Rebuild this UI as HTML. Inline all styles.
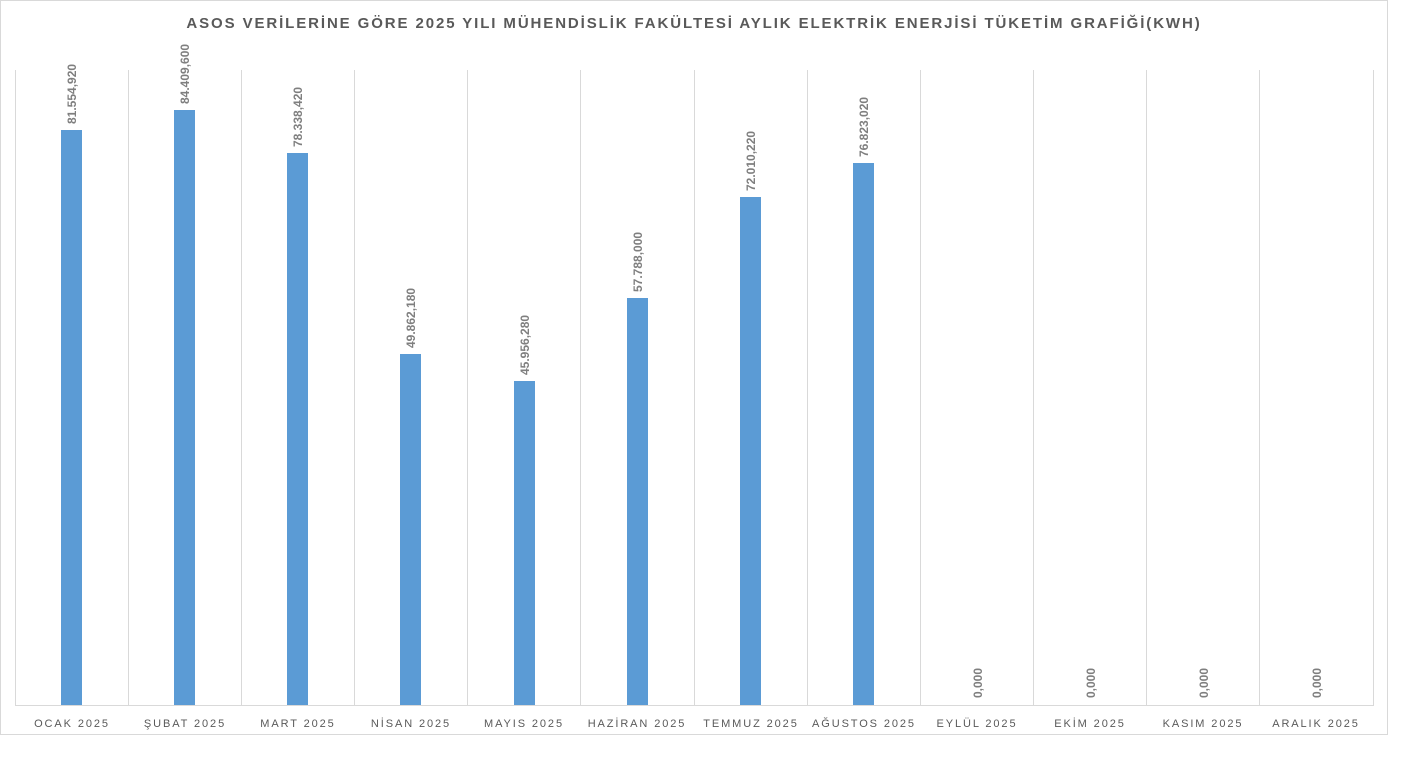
<!DOCTYPE html>
<html><head><meta charset="utf-8"><style>
body{margin:0;background:#fff;width:1417px;height:771px;overflow:hidden;font-family:"Liberation Sans",sans-serif}
</style></head><body>
<svg width="1417" height="771" xmlns="http://www.w3.org/2000/svg" font-family="Liberation Sans, sans-serif">
<rect x="0.5" y="0.5" width="1387" height="734" fill="#fff" stroke="#d9d9d9"/>
<text x="694" y="28" text-anchor="middle" font-size="15" font-weight="bold" fill="#595959" letter-spacing="1.9">ASOS VERİLERİNE GÖRE 2025 YILI MÜHENDİSLİK FAKÜLTESİ AYLIK ELEKTRİK ENERJİSİ TÜKETİM GRAFİĞİ(KWH)</text>
<g stroke="#d9d9d9" stroke-width="1">
<line x1="15.5" y1="70" x2="15.5" y2="705"/><line x1="128.5" y1="70" x2="128.5" y2="705"/><line x1="241.5" y1="70" x2="241.5" y2="705"/><line x1="354.5" y1="70" x2="354.5" y2="705"/><line x1="467.5" y1="70" x2="467.5" y2="705"/><line x1="580.5" y1="70" x2="580.5" y2="705"/><line x1="694.5" y1="70" x2="694.5" y2="705"/><line x1="807.5" y1="70" x2="807.5" y2="705"/><line x1="920.5" y1="70" x2="920.5" y2="705"/><line x1="1033.5" y1="70" x2="1033.5" y2="705"/><line x1="1146.5" y1="70" x2="1146.5" y2="705"/><line x1="1259.5" y1="70" x2="1259.5" y2="705"/><line x1="1373.5" y1="70" x2="1373.5" y2="705"/>
<line x1="15" y1="705.5" x2="1374" y2="705.5"/>
</g>
<g fill="#5b9bd5">
<rect x="61" y="130" width="21" height="575"/>
<rect x="174" y="110" width="21" height="595"/>
<rect x="287" y="153" width="21" height="552"/>
<rect x="400" y="354" width="21" height="351"/>
<rect x="514" y="381" width="21" height="324"/>
<rect x="627" y="298" width="21" height="407"/>
<rect x="740" y="197" width="21" height="508"/>
<rect x="853" y="163" width="21" height="542"/>
</g>
<g font-size="12" font-weight="bold" fill="#7f7f7f">
<text transform="translate(76,124) rotate(-90)">81.554,920</text>
<text transform="translate(189,104) rotate(-90)">84.409,600</text>
<text transform="translate(302,147) rotate(-90)">78.338,420</text>
<text transform="translate(415,348) rotate(-90)">49.862,180</text>
<text transform="translate(529,375) rotate(-90)">45.956,280</text>
<text transform="translate(642,292) rotate(-90)">57.788,000</text>
<text transform="translate(755,191) rotate(-90)">72.010,220</text>
<text transform="translate(868,157) rotate(-90)">76.823,020</text>
<text transform="translate(982,698) rotate(-90)">0,000</text>
<text transform="translate(1095,698) rotate(-90)">0,000</text>
<text transform="translate(1208,698) rotate(-90)">0,000</text>
<text transform="translate(1321,698) rotate(-90)">0,000</text>
</g>
<g font-size="11" fill="#595959" text-anchor="middle" letter-spacing="1.9">
<text x="72" y="727">OCAK 2025</text>
<text x="185" y="727">ŞUBAT 2025</text>
<text x="298" y="727">MART 2025</text>
<text x="411" y="727">NİSAN 2025</text>
<text x="524" y="727">MAYIS 2025</text>
<text x="637" y="727">HAZİRAN 2025</text>
<text x="751" y="727">TEMMUZ 2025</text>
<text x="864" y="727">AĞUSTOS 2025</text>
<text x="977" y="727">EYLÜL 2025</text>
<text x="1090" y="727">EKİM 2025</text>
<text x="1203" y="727">KASIM 2025</text>
<text x="1316" y="727">ARALIK 2025</text>
</g>
</svg>
</body></html>
